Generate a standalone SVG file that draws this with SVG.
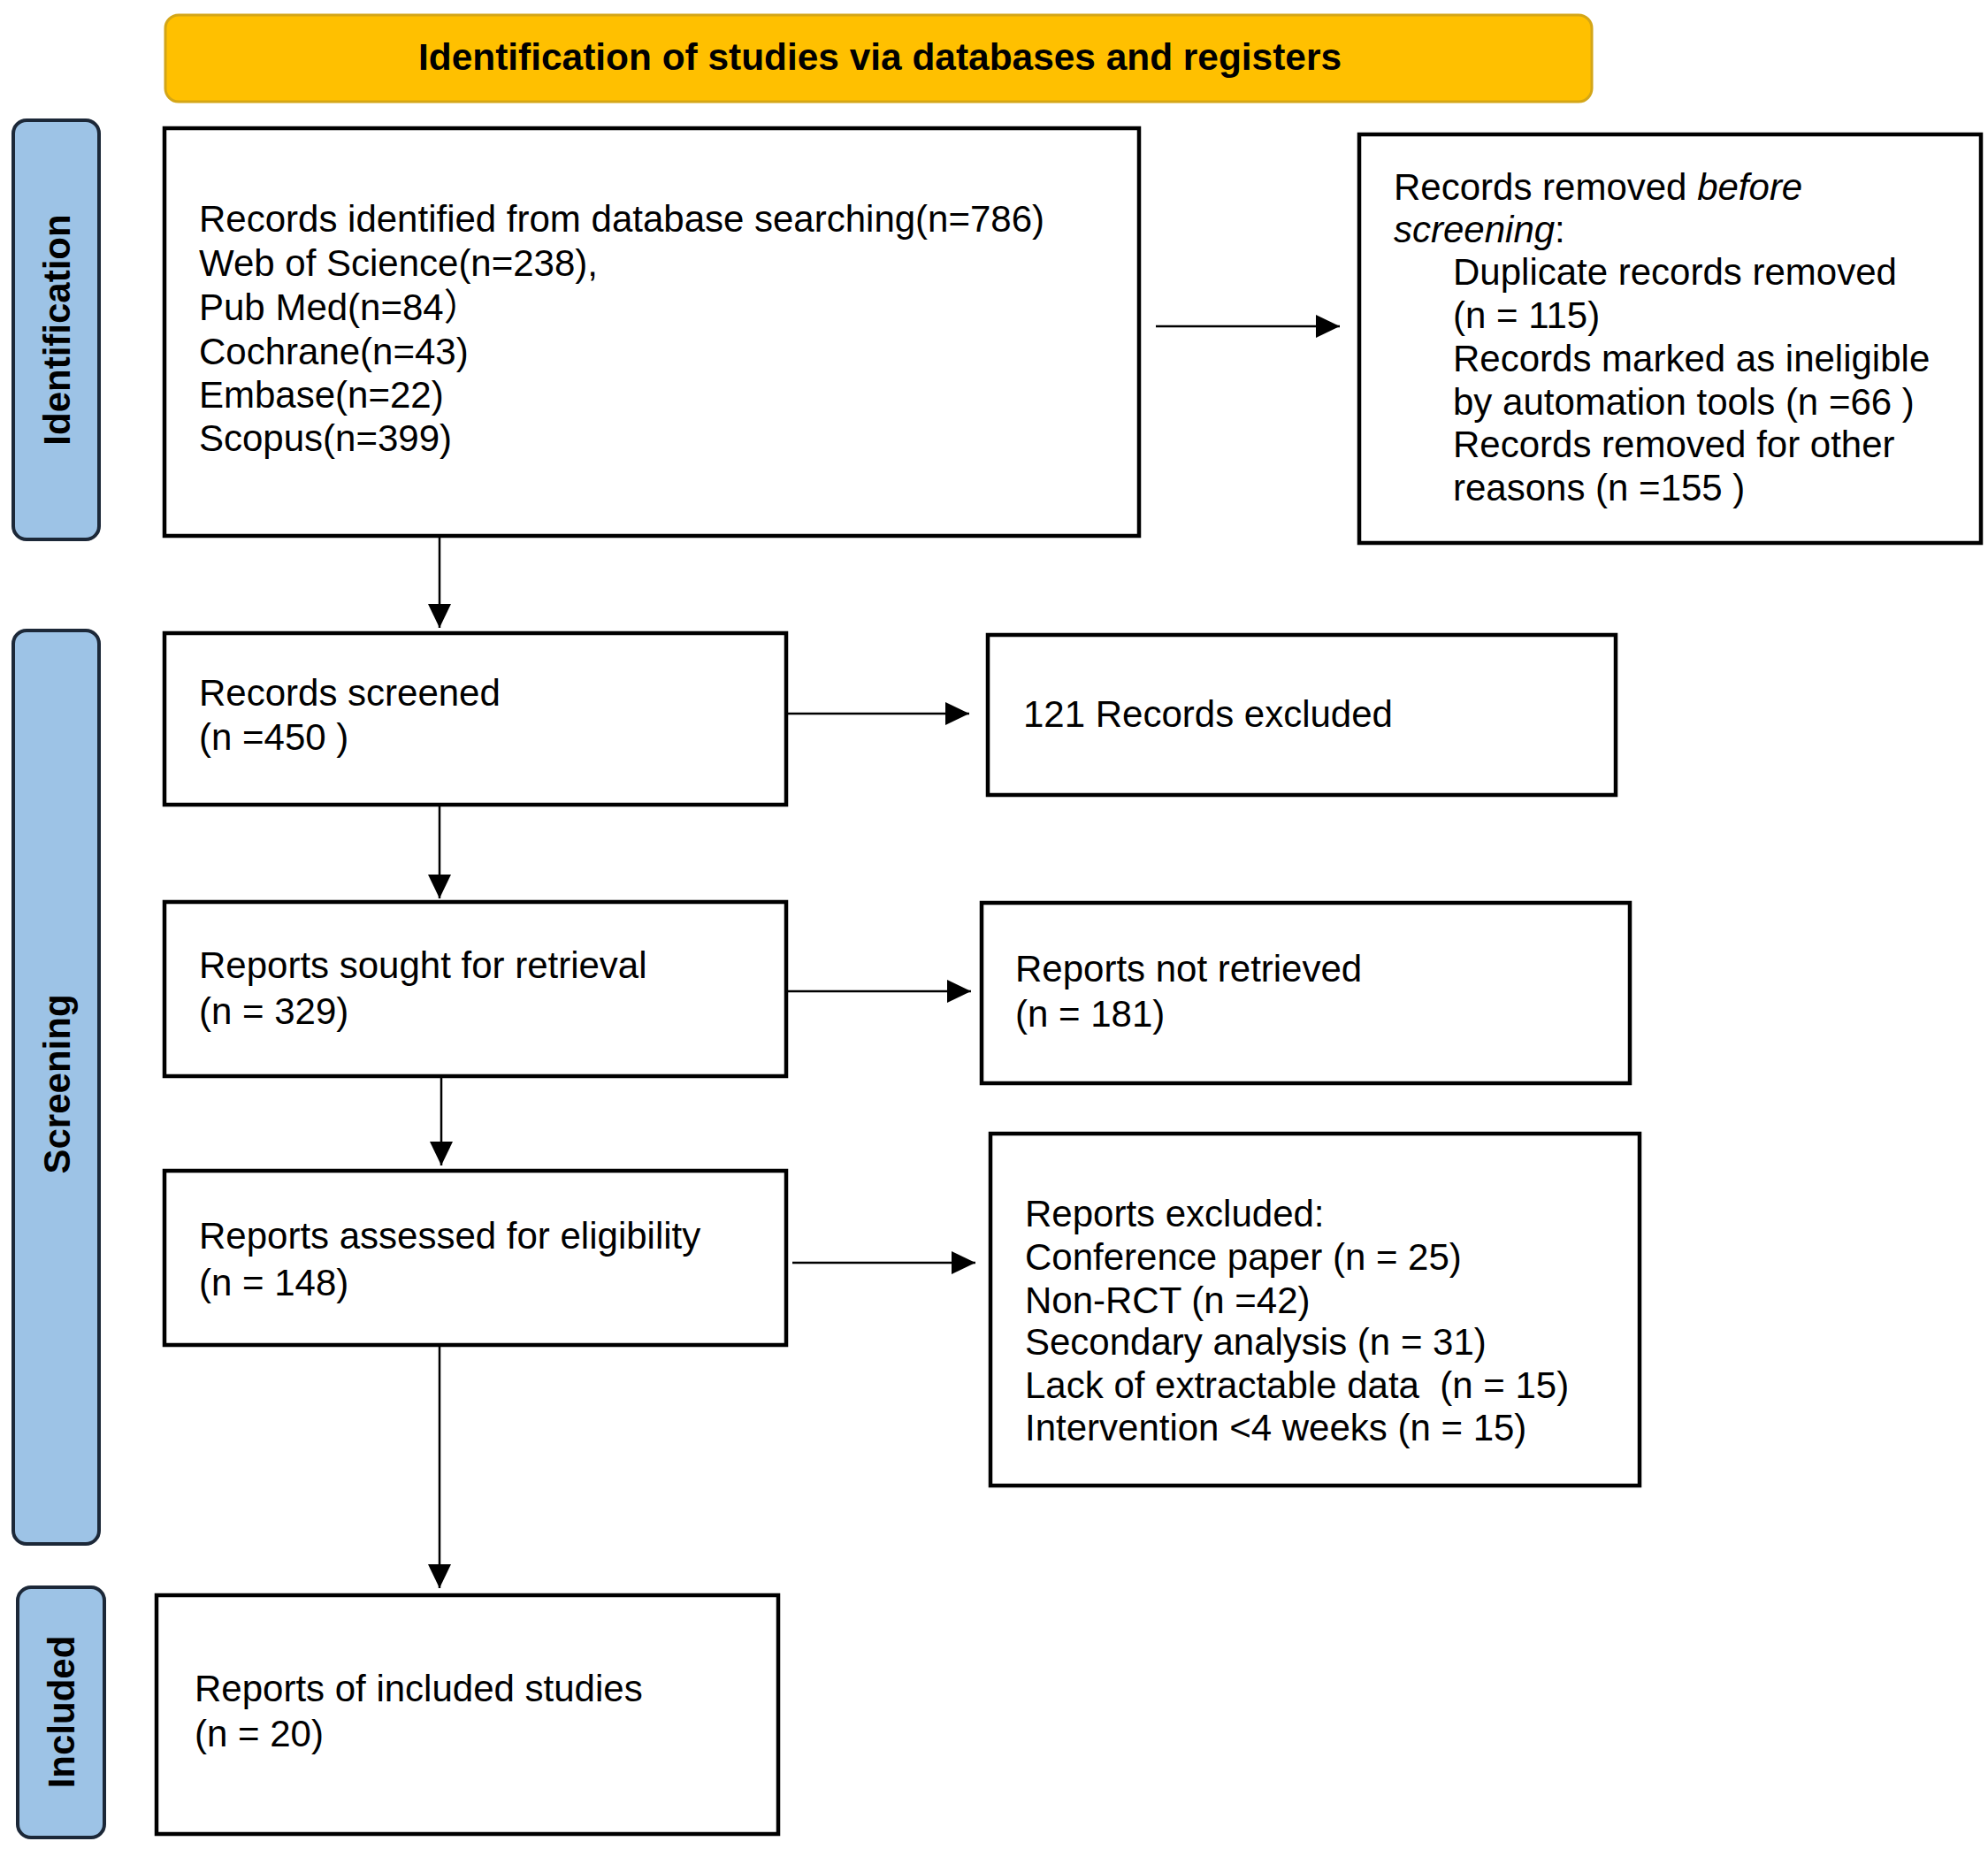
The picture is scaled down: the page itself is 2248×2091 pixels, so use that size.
<svg xmlns="http://www.w3.org/2000/svg" width="2248" height="2091" viewBox="0 0 2248 2091">
<defs>
<style>
.box{fill:#fff;stroke:#000;stroke-width:4.5}
.side{fill:#9DC3E6;stroke:#1c2838;stroke-width:4}
.t{font-family:"Liberation Sans",Arial,"Noto Sans CJK SC",sans-serif;font-size:42px;fill:#000}
.st{font-family:"Liberation Sans",Arial,sans-serif;font-size:42px;font-weight:bold;fill:#000}
.c{stroke:#000;stroke-width:2.5;fill:none;marker-end:url(#ah)}
</style>
<marker id="ah" markerUnits="userSpaceOnUse" markerWidth="28" markerHeight="28" viewBox="0 0 28 28" refX="27" refY="14" orient="auto">
<path d="M0,1 L27,14 L0,27 Z" fill="#000"/>
</marker>
</defs>
<rect width="2248" height="2091" fill="#fff"/>

<g id="header">
<rect x="187" y="17" width="1613" height="98" rx="15" fill="#FFC000" stroke="#D4A617" stroke-width="3"/>
<text class="st" x="995" y="79" text-anchor="middle" textLength="1044" lengthAdjust="spacingAndGlyphs">Identification of studies via databases and registers</text>
</g>

<g id="side-identification">
<rect class="side" x="15" y="136" width="97" height="474" rx="15"/>
<text class="st" transform="translate(79,373) rotate(-90)" text-anchor="middle">Identification</text>
</g>
<g id="side-screening">
<rect class="side" x="15" y="713" width="97" height="1033" rx="15"/>
<text class="st" transform="translate(79,1226) rotate(-90)" text-anchor="middle">Screening</text>
</g>
<g id="side-included">
<rect class="side" x="20" y="1795" width="98" height="283" rx="15"/>
<text class="st" transform="translate(84,1936) rotate(-90)" text-anchor="middle">Included</text>
</g>

<g id="n-identified">
<rect class="box" x="186" y="145" width="1102" height="461"/>
<text class="t" x="225" y="262">Records identified from database searching(n=786)</text>
<text class="t" x="225" y="312">Web of Science(n=238),</text>
<text class="t" x="225" y="362">Pub Med(n=84）</text>
<text class="t" x="225" y="412">Cochrane(n=43)</text>
<text class="t" x="225" y="461">Embase(n=22)</text>
<text class="t" x="225" y="510">Scopus(n=399)</text>
</g>

<g id="n-removed">
<rect class="box" x="1537" y="152" width="703" height="462"/>
<text class="t" x="1576" y="226">Records removed <tspan font-style="italic">before</tspan></text>
<text class="t" x="1576" y="274"><tspan font-style="italic">screening</tspan>:</text>
<text class="t" x="1643" y="322">Duplicate records removed</text>
<text class="t" x="1643" y="371">(n = 115)</text>
<text class="t" x="1643" y="420">Records marked as ineligible</text>
<text class="t" x="1643" y="469">by automation tools (n =66 )</text>
<text class="t" x="1643" y="517">Records removed for other</text>
<text class="t" x="1643" y="566">reasons (n =155 )</text>
</g>

<g id="n-screened">
<rect class="box" x="186" y="716" width="703" height="194"/>
<text class="t" x="225" y="798">Records screened</text>
<text class="t" x="225" y="848">(n =450 )</text>
</g>

<g id="n-excluded">
<rect class="box" x="1117" y="718" width="710" height="181"/>
<text class="t" x="1157" y="822">121 Records excluded</text>
</g>

<g id="n-sought">
<rect class="box" x="186" y="1020" width="703" height="197"/>
<text class="t" x="225" y="1106">Reports sought for retrieval</text>
<text class="t" x="225" y="1158">(n = 329)</text>
</g>

<g id="n-notretrieved">
<rect class="box" x="1110" y="1021" width="733" height="204"/>
<text class="t" x="1148" y="1110">Reports not retrieved</text>
<text class="t" x="1148" y="1161">(n = 181)</text>
</g>

<g id="n-assessed">
<rect class="box" x="186" y="1324" width="703" height="197"/>
<text class="t" x="225" y="1412">Reports assessed for eligibility</text>
<text class="t" x="225" y="1465">(n = 148)</text>
</g>

<g id="n-reportsexcluded">
<rect class="box" x="1120" y="1282" width="734" height="398"/>
<text class="t" x="1159" y="1387">Reports excluded:</text>
<text class="t" x="1159" y="1436">Conference paper (n = 25)</text>
<text class="t" x="1159" y="1485">Non-RCT (n =42)</text>
<text class="t" x="1159" y="1532">Secondary analysis (n = 31)</text>
<text class="t" x="1159" y="1581">Lack of extractable data&#160; (n = 15)</text>
<text class="t" x="1159" y="1629">Intervention &lt;4 weeks (n = 15)</text>
</g>

<g id="n-included">
<rect class="box" x="177" y="1804" width="703" height="270"/>
<text class="t" x="220" y="1924">Reports of included studies</text>
<text class="t" x="220" y="1975">(n = 20)</text>
</g>

<g id="connectors">
<line class="c" x1="1307" y1="369" x2="1515" y2="369"/>
<line class="c" x1="497" y1="608" x2="497" y2="710"/>
<line class="c" x1="891" y1="807" x2="1096" y2="807"/>
<line class="c" x1="497" y1="912" x2="497" y2="1016"/>
<line class="c" x1="891" y1="1121" x2="1098" y2="1121" stroke="#444"/>
<line class="c" x1="499" y1="1219" x2="499" y2="1318"/>
<line class="c" x1="896" y1="1428" x2="1103" y2="1428" stroke="#444"/>
<line class="c" x1="497" y1="1523" x2="497" y2="1796"/>
</g>
</svg>
